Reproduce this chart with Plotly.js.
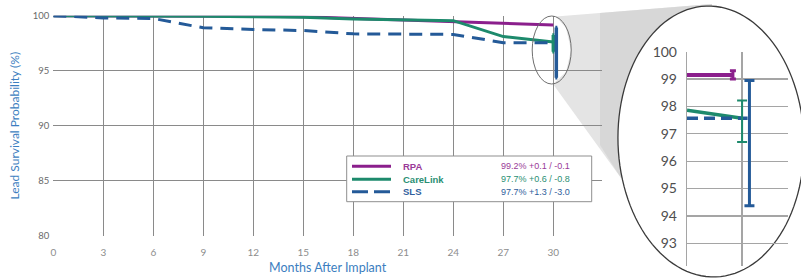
<!DOCTYPE html>
<html>
<head>
<meta charset="utf-8">
<script src="https://cdn.plot.ly/plotly-3.0.1.min.js"></script>
<style>html,body{margin:0;padding:0;background:#fff;}#chart{width:801px;height:279px;}</style>
</head>
<body>
<div id="chart"></div>
<script>
// ---------- data ----------
const months = [0, 3, 6, 9, 12, 15, 18, 21, 24, 27, 30];
const monthTicks = ['0', '3', '6', '9', '12', '15', '18', '21', '24', '27', '30'];
const rpa      = [100, 100, 100, 100, 99.95, 99.9, 99.75, 99.6, 99.45, 99.3, 99.15];
const careLink = [100, 100, 100, 99.95, 99.9, 99.85, 99.7, 99.6, 99.55, 98.1, 97.6];
const sls      = [100, 99.8, 99.75, 98.9, 98.75, 98.65, 98.35, 98.3, 98.3, 97.55, 97.55];

const seriesNames = ['RPA', 'CareLink', 'SLS'];
const seriesValueLabels = ['99.2% +0.1 / -0.1', '97.7% +0.6 / -0.8', '97.7% +1.3 / -3.0'];
const errPlus  = [0.15, 0.65, 1.38];
const errMinus = [0.15, 0.87, 3.2];
const mainErrX = [29.9, 30, 30.18];
const mainErrY = [99.15, 97.6, 97.55];

// zoomed inset values
const insetRpaX = [28.5, 29.75];
const insetRpaY = [99.15, 99.15];
const insetCareX = [28.5, 30];
const insetCareY = [97.86, 97.57];
const insetSlsX = [28.5, 30.15];
const insetSlsY = [97.57, 97.57];
const insetErrX = [29.75, 30, 30.2];
const insetErrY = [99.15, 97.57, 97.57];
const insetTicks = [93, 94, 95, 96, 97, 98, 99, 100];

// ---------- styling ----------
const colors = ['#8b1f8c', '#1d8a6c', '#245a98'];
const textColors = ['#9a3a98', '#2a8f73', '#2f5e9c'];
const W = 801, H = 279;
const px = x => x / W, py = y => 1 - y / H;
const FONT = 'Lato, "Open Sans", sans-serif';
const titleBlue = '#3c7ec0';

const traces = [];
const mainSeries = [rpa, careLink, sls];
mainSeries.forEach((s, i) => {
  traces.push({
    x: months, y: s, xaxis: 'x', yaxis: 'y', mode: 'lines', name: seriesNames[i],
    line: {color: colors[i], width: i === 2 ? 3 : 3, dash: i === 2 ? '13px,8px' : 'solid'},
    hoverinfo: 'skip', showlegend: false
  });
});
// main error bars (only CareLink and SLS visible at this scale)
[1, 2].forEach(i => {
  traces.push({
    x: [mainErrX[i]], y: [mainErrY[i]], xaxis: 'x', yaxis: 'y', mode: 'markers',
    marker: {size: 1, color: 'rgba(0,0,0,0)'},
    error_y: {type: 'data', symmetric: false, array: [errPlus[i]], arrayminus: [errMinus[i]],
      color: colors[i], thickness: 3.5, width: 1},
    hoverinfo: 'skip', showlegend: false
  });
});
// inset lines
const insetXs = [insetRpaX, insetCareX, insetSlsX];
const insetYs = [insetRpaY, insetCareY, insetSlsY];
insetXs.forEach((xs, i) => {
  traces.push({
    x: xs, y: insetYs[i], xaxis: 'x2', yaxis: 'y2', mode: 'lines',
    line: {color: colors[i], width: i === 0 ? 4 : 3.5, dash: i === 2 ? '11px,6px' : 'solid'},
    hoverinfo: 'skip', showlegend: false
  });
});
// inset error bars
[0, 1, 2].forEach(i => {
  traces.push({
    x: [insetErrX[i]], y: [insetErrY[i]], xaxis: 'x2', yaxis: 'y2', mode: 'markers',
    marker: {size: 1, color: 'rgba(0,0,0,0)'},
    error_y: {type: 'data', symmetric: false, array: [errPlus[i]], arrayminus: [errMinus[i]],
      color: colors[i], thickness: i === 1 ? 2 : 3, width: i === 0 ? 3 : 5},
    hoverinfo: 'skip', showlegend: false
  });
});

// ---------- decoration shapes ----------
function ellipsePath(cx, cy, rx, ry, rot, n) {
  let d = '';
  for (let k = 0; k <= n; k++) {
    const t = 2 * Math.PI * k / n;
    const ex = rx * Math.cos(t), ey = ry * Math.sin(t);
    const X = cx + ex * Math.cos(rot) - ey * Math.sin(rot);
    const Y = cy + ex * Math.sin(rot) + ey * Math.cos(rot);
    d += (k === 0 ? 'M' : 'L') + px(X).toFixed(5) + ',' + py(Y).toFixed(5);
  }
  return d + 'Z';
}
function polyPath(pts) {
  return pts.map((p, k) => (k === 0 ? 'M' : 'L') + px(p[0]).toFixed(5) + ',' + py(p[1]).toFixed(5)).join('') + 'Z';
}
const conePts = [[556, 16.5], [712, 4], [705, 140], [621, 178], [553, 84], [566, 72], [571, 50], [566, 28]];
const coneInner = [[600, 13], [712, 4], [705, 140], [621, 178], [600, 145]];

const shapes = [
  {type: 'path', xref: 'paper', yref: 'paper', layer: 'below', path: polyPath(conePts),
   fillcolor: '#e4e4e4', line: {width: 0}},
  {type: 'path', xref: 'paper', yref: 'paper', layer: 'below', path: polyPath(coneInner),
   fillcolor: '#cfcfcf', opacity: 0.6, line: {width: 0}},
  {type: 'path', xref: 'paper', yref: 'paper', layer: 'below', path: ellipsePath(711, 141.5, 93, 135.5, -0.035, 120),
   fillcolor: '#ffffff', line: {color: '#3a3a3a', width: 1.3}},
  {type: 'circle', xref: 'paper', yref: 'paper', layer: 'above',
   x0: px(532.2), x1: px(571.2), y0: py(84), y1: py(16),
   fillcolor: 'rgba(0,0,0,0)', line: {color: '#6f6f6f', width: 1}},
  // legend box
  {type: 'rect', xref: 'paper', yref: 'paper', layer: 'above',
   x0: px(346.7), x1: px(591.7), y0: py(201.7), y1: py(156),
   fillcolor: '#ffffff', line: {color: '#8f8f8f', width: 1}}
];
const legendRows = [166.3, 179.3, 191.7];
const annotations = [];
seriesNames.forEach((nm, i) => {
  shapes.push({type: 'line', xref: 'paper', yref: 'paper', layer: 'above',
    x0: px(352), x1: px(391), y0: py(legendRows[i]), y1: py(legendRows[i]),
    line: {color: colors[i], width: 3, dash: i === 2 ? '16px,6px' : 'solid'}});
  annotations.push({xref: 'paper', yref: 'paper', x: px(401), y: py(legendRows[i]),
    xanchor: 'left', yanchor: 'middle', showarrow: false, text: nm,
    font: {family: '"Liberation Sans", Arial, sans-serif', size: 9.5, color: textColors[i], weight: 'bold'}});
  annotations.push({xref: 'paper', yref: 'paper', x: px(498.5), y: py(legendRows[i]),
    xanchor: 'left', yanchor: 'middle', showarrow: false, text: seriesValueLabels[i],
    font: {family: '"Liberation Sans", Arial, sans-serif', size: 9, color: textColors[i]}});
});

const gridGray = '#8a8a8a';
const layout = {
  width: W, height: H,
  margin: {l: 0, r: 0, t: 0, b: 0},
  paper_bgcolor: '#ffffff', plot_bgcolor: 'rgba(0,0,0,0)',
  showlegend: false,
  font: {family: FONT},
  xaxis: {
    domain: [px(53.3), px(602)], range: [0, 32.92], anchor: 'y',
    tickmode: 'array', tickvals: months, ticktext: monthTicks,
    showgrid: true, gridcolor: gridGray, gridwidth: 1.3, zeroline: false, showline: false,
    ticks: '', ticklabelstandoff: 9,
    tickfont: {family: FONT, size: 10, color: '#8d8d8d'},
    title: {text: 'Months After Implant', font: {family: FONT, size: 12.5, color: titleBlue}, standoff: 6}
  },
  yaxis: {
    domain: [py(235.7), py(15.7)], range: [80, 100], anchor: 'x',
    tickmode: 'linear', tick0: 80, dtick: 5,
    showgrid: true, gridcolor: gridGray, gridwidth: 1.3, zeroline: false, showline: false,
    ticks: '', ticklabelstandoff: 3,
    tickfont: {family: FONT, size: 9.5, color: '#6a6a6a'},
    title: {text: 'Lead Survival Probability (%)', font: {family: FONT, size: 12, color: titleBlue}, standoff: 10}
  },
  xaxis2: {
    domain: [px(687), px(788)], range: [28.5, 31.25], anchor: 'y2',
    tickmode: 'array', tickvals: [30], showticklabels: false,
    showgrid: true, gridcolor: '#a5a5a5', gridwidth: 1.2, zeroline: false, showline: false, ticks: ''
  },
  yaxis2: {
    domain: [py(266), py(51.7)], range: [92.17, 100], anchor: 'x2',
    tickmode: 'array', tickvals: insetTicks, ticktext: insetTicks.map(String),
    showgrid: true, gridcolor: '#a5a5a5', gridwidth: 1.2, zeroline: false,
    showline: true, linecolor: '#a5a5a5', linewidth: 1.2,
    ticks: '', ticklabelstandoff: 6,
    tickfont: {family: FONT, size: 14, color: '#4e4e4e'}
  },
  shapes: shapes,
  annotations: annotations
};

Plotly.newPlot('chart', traces, layout, {staticPlot: true, displayModeBar: false});
</script>
</body>
</html>
